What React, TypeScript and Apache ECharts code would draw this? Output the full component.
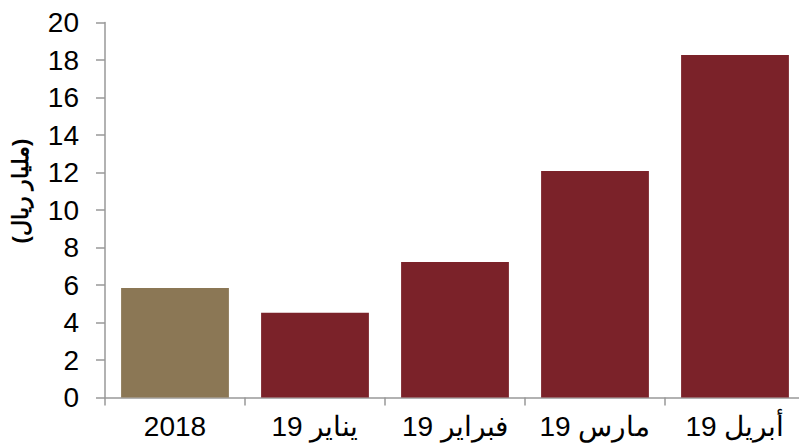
import React, { useEffect, useRef } from "react";
import * as echarts from "echarts";

const categories = ["2018", "يناير 19", "فبراير 19", "مارس 19", "أبريل 19"];
const values = [5.84, 4.52, 7.23, 12.08, 18.27];
const barColors = ["#8B7755", "#7B2229", "#7B2229", "#7B2229", "#7B2229"];
const yAxisTitle = "(مليار ريال)";

export default function App() {
  const ref = useRef<HTMLDivElement>(null);
  useEffect(() => {
    if (!ref.current) return;
    const chart = echarts.init(ref.current, undefined, { renderer: "svg" });
    chart.setOption({
      animation: false,
      backgroundColor: "#ffffff",
      grid: { left: 105, right: 1, top: 22.5, bottom: 48.5, containLabel: false },
      xAxis: {
        type: "category",
        data: categories,
        axisLine: { show: true, lineStyle: { color: "#999999", width: 1.5 } },
        axisTick: { show: true, length: 8, alignWithLabel: false, lineStyle: { color: "#999999", width: 1.5 } },
        axisLabel: {
          color: "#000000",
          fontSize: 28,
          fontFamily: "Liberation Sans, Arial, sans-serif",
          margin: 15,
          interval: 0,
        },
      },
      yAxis: {
        type: "value",
        min: 0,
        max: 20,
        interval: 2,
        splitLine: { show: false },
        axisLine: { show: true, lineStyle: { color: "#999999", width: 1.5 } },
        axisTick: { show: true, length: 9, lineStyle: { color: "#999999", width: 1.5 } },
        axisLabel: {
          color: "#000000",
          fontSize: 28,
          fontFamily: "Liberation Sans, Arial, sans-serif",
          margin: 26,
        },
      },
      graphic: [
        {
          type: "text",
          x: 20,
          y: 191,
          rotation: Math.PI / 2,
          style: {
            text: yAxisTitle,
            fontSize: 22,
            fontWeight: "bold",
            fontFamily: "Liberation Sans, Arial, sans-serif",
            fill: "#000000",
            align: "center",
            verticalAlign: "middle",
          },
        },
      ],
      series: [
        {
          type: "bar",
          data: values.map((v, i) => ({ value: v, itemStyle: { color: barColors[i] } })),
          barCategoryGap: "23%",
        },
      ],
    });
    return () => chart.dispose();
  }, []);
  return (
    <div style={{ position: "fixed", left: 0, top: 0, width: 799, height: 446, overflow: "hidden" }}>
      <div ref={ref} style={{ width: 806, height: 446 }} />
    </div>
  );
}
